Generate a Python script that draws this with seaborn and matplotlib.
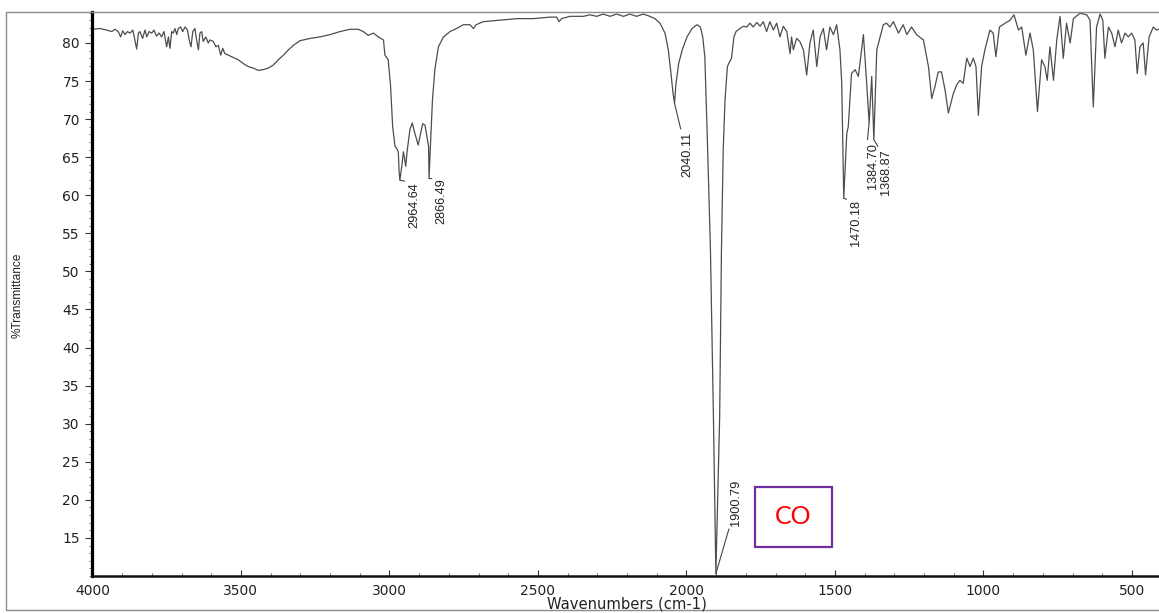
import matplotlib
matplotlib.use("Agg")
import matplotlib.pyplot as plt
import matplotlib.patches as mpatches
from matplotlib.ticker import MultipleLocator, FixedLocator
import pandas as pd
import seaborn as sns

# FT-IR spectrum: wavenumber (cm-1) and %Transmittance, high to low wavenumber
wavenumber = [
    4000, 3974, 3952, 3935, 3924, 3913, 3905, 3898, 3890, 3882, 3873, 3864, 3857, 3851,
    3845, 3840, 3831, 3823, 3817, 3809, 3800, 3793, 3784, 3775, 3767, 3759, 3750, 3744,
    3739, 3733, 3728, 3722, 3716, 3711, 3703, 3696, 3688, 3680, 3674, 3668, 3662, 3655,
    3649, 3643, 3638, 3632, 3627, 3618, 3610, 3604, 3593, 3584, 3576, 3568, 3561, 3554,
    3542, 3531, 3520, 3509, 3492, 3475, 3458, 3441, 3425, 3408, 3391, 3374, 3357, 3340,
    3323, 3301, 3267, 3234, 3200, 3166, 3133, 3105, 3088, 3071, 3054, 3037, 3020, 3015,
    3004, 2996, 2989, 2981, 2976, 2970, 2967, 2964.64, 2957, 2953, 2950, 2945, 2940, 2931,
    2923, 2914, 2903, 2895, 2888, 2880, 2872, 2868, 2866.49, 2861, 2855, 2847, 2835, 2818,
    2796, 2774, 2751, 2729, 2717, 2708, 2684, 2628, 2571, 2515, 2459, 2437, 2429, 2420,
    2392, 2347, 2325, 2302, 2280, 2257, 2235, 2212, 2190, 2168, 2145, 2123, 2106, 2089,
    2072, 2061, 2052, 2045, 2040.11, 2035, 2026, 2014, 1998, 1981, 1964, 1953, 1945, 1938,
    1930, 1919, 1909, 1900.79, 1888, 1882, 1876, 1870, 1862, 1855, 1848, 1840, 1833, 1820,
    1808, 1797, 1786, 1775, 1763, 1752, 1741, 1730, 1719, 1707, 1696, 1685, 1674, 1662,
    1651, 1646, 1640, 1629, 1618, 1606, 1595, 1584, 1573, 1561, 1550, 1539, 1528, 1517,
    1505, 1494, 1483, 1477, 1470.18, 1460, 1455, 1444, 1432, 1421, 1404, 1393, 1384.70, 1376,
    1368.87, 1359, 1337, 1326, 1315, 1303, 1286, 1270, 1258, 1242, 1225, 1202, 1185, 1174,
    1163, 1152, 1141, 1129, 1118, 1107, 1101, 1090, 1079, 1068, 1056, 1045, 1034, 1025,
    1017, 1006, 995, 978, 967, 958, 946, 927, 910, 897, 882, 871, 857, 843,
    832, 818, 804, 793, 785, 776, 764, 753, 742, 731, 720, 708, 697, 675,
    652, 641, 630, 619, 607, 598, 591, 579, 568, 557, 546, 535, 523, 512,
    501, 490, 482, 473, 462, 454, 442, 428, 417, 405, 400,
]
transmittance = [
    81.8, 81.9, 81.7, 81.5, 81.8, 81.5, 80.8, 81.6, 81.1, 81.5, 81.3, 81.7, 80.4, 79.2,
    81.3, 81.5, 80.6, 81.7, 80.8, 81.5, 81.3, 81.7, 80.9, 81.3, 80.8, 81.5, 79.5, 80.8,
    79.3, 81.5, 81.3, 81.9, 81.1, 81.9, 82.1, 81.5, 82.1, 81.7, 80.4, 79.5, 81.5, 81.9,
    80.4, 79.1, 81.3, 81.5, 80.2, 80.8, 80.0, 80.4, 80.2, 79.5, 79.7, 78.4, 79.3, 78.6,
    78.4, 78.2, 78.0, 77.8, 77.3, 76.9, 76.7, 76.4, 76.5, 76.7, 77.1, 77.8, 78.4, 79.1,
    79.7, 80.3, 80.6, 80.8, 81.1, 81.5, 81.8, 81.8, 81.5, 81.0, 81.3, 80.8, 80.4, 78.4,
    77.8, 74.3, 69.0, 66.4, 66.2, 65.7, 62.9, 62.0, 64.2, 65.7, 65.1, 63.8, 65.9, 68.6,
    69.5, 68.1, 66.6, 68.1, 69.4, 69.2, 67.3, 66.4, 62.2, 67.3, 72.5, 76.5, 79.5, 80.8,
    81.5, 81.9, 82.4, 82.4, 81.9, 82.4, 82.8, 83.0, 83.2, 83.2, 83.4, 83.4, 82.8, 83.2,
    83.5, 83.5, 83.7, 83.5, 83.8, 83.5, 83.8, 83.5, 83.8, 83.5, 83.8, 83.5, 83.2, 82.6,
    81.3, 79.1, 76.0, 73.4, 72.1, 74.7, 77.3, 79.1, 80.8, 81.9, 82.4, 82.1, 80.8, 78.2,
    68.1, 52.8, 30.9, 10.3, 30.9, 52.8, 66.0, 72.5, 76.9, 77.5, 78.0, 80.8, 81.5, 81.9,
    82.2, 82.1, 82.6, 82.1, 82.7, 82.2, 82.8, 81.5, 82.8, 81.7, 82.6, 80.8, 82.2, 81.5,
    78.6, 80.8, 79.1, 80.6, 80.2, 79.1, 75.8, 80.0, 81.7, 76.9, 80.8, 81.9, 79.1, 82.1,
    81.1, 82.4, 79.1, 74.7, 59.6, 68.1, 69.0, 76.0, 76.5, 75.6, 81.1, 74.7, 69.5, 75.6,
    67.3, 79.1, 82.4, 82.6, 82.1, 82.8, 81.3, 82.4, 81.1, 82.1, 81.1, 80.4, 76.9, 72.7,
    74.3, 76.2, 76.2, 73.8, 70.8, 72.5, 73.4, 74.5, 75.1, 74.7, 78.0, 76.9, 78.0, 76.9,
    70.5, 76.9, 79.1, 81.7, 81.3, 78.2, 82.1, 82.6, 83.0, 83.7, 81.7, 82.1, 78.4, 81.3,
    79.1, 71.0, 77.8, 76.9, 75.1, 79.5, 75.1, 80.4, 83.5, 78.0, 82.6, 80.0, 83.2, 83.9,
    83.7, 83.0, 71.6, 82.1, 83.8, 83.0, 78.0, 82.1, 81.3, 79.5, 81.7, 80.0, 81.3, 80.8,
    81.3, 80.4, 76.0, 79.5, 80.0, 75.8, 80.8, 82.1, 81.7, 81.9, 81.6,
]

# Labelled peak positions
peak_wavenumbers = [2964.64, 2866.49, 2040.11, 1900.79, 1470.18, 1384.70, 1368.87]
peak_labels = ["2964.64", "2866.49", "2040.11", "1900.79", "1470.18", "1384.70", "1368.87"]
# label offsets from the peak in pixels (dx, dy) and which end of the text the leader meets
label_offsets = [(8, -2), (6, 0), (7, -29), (14, 48), (6, -2), (-2, -20), (6, -10)]
label_va = ["top", "top", "top", "bottom", "top", "top", "top"]

x_ticks = [4000, 3500, 3000, 2500, 2000, 1500, 1000, 500]
y_ticks = [15, 20, 25, 30, 35, 40, 45, 50, 55, 60, 65, 70, 75, 80]

sns.set_theme(style="ticks")
plt.rcParams["font.family"] = ["DejaVu Sans"]

W, H = 1159, 613
fig = plt.figure(figsize=(W / 100, H / 100), dpi=100)
fig.patch.set_facecolor("white")

# outer frame of the printout
fig.add_artist(mpatches.Rectangle((6 / W, (H - 610) / H), 1.2, (610 - 12) / H,
                                  transform=fig.transFigure, fill=False,
                                  edgecolor="#8c8c8c", linewidth=1.0))

ax = fig.add_axes([92.4 / W, 37 / H, 1069.2 / W, 564 / H])
ax.set_facecolor("white")

df = pd.DataFrame({"wavenumber": wavenumber, "transmittance": transmittance})
sns.lineplot(data=df, x="wavenumber", y="transmittance", sort=False, estimator=None,
             color="#4d4d4d", linewidth=0.9, ax=ax)

ax.set_xlim(4000, 400)
ax.set_ylim(10, 84.07)

ax.xaxis.set_major_locator(FixedLocator(x_ticks))
ax.xaxis.set_minor_locator(MultipleLocator(100))
ax.yaxis.set_major_locator(FixedLocator(y_ticks))
ax.yaxis.set_minor_locator(MultipleLocator(1))

ax.tick_params(axis="x", which="major", direction="in", length=4, width=0.8,
               color="#333333", pad=6, labelsize=10, labelcolor="#222222")
ax.tick_params(axis="x", which="minor", direction="in", length=2, width=0.6, color="#555555")
ax.tick_params(axis="y", which="major", direction="out", length=5, width=0.8,
               color="#333333", pad=4, labelsize=10, labelcolor="#222222")
ax.tick_params(axis="y", which="minor", direction="out", length=2.5, width=0.6, color="#666666")

for side in ("top", "right"):
    ax.spines[side].set_visible(False)
ax.spines["left"].set_linewidth(2.3)
ax.spines["left"].set_color("black")
ax.spines["bottom"].set_linewidth(1.8)
ax.spines["bottom"].set_color("#111111")
ax.set_xlabel("")
ax.set_ylabel("")

fig.text(627 / W, 1 - 604 / H, "Wavenumbers (cm-1)", ha="center", va="center",
         fontsize=10.6, color="#222222")
fig.text(18 / W, 1 - 295 / H, "%Transmittance", rotation=90, ha="center", va="center",
         fontsize=8.6, color="#222222", family=["Liberation Sans", "DejaVu Sans"])

# peak annotations with leader lines
peak_font = ["Liberation Sans", "DejaVu Sans"]
for wn_pk, lab, (dx, dy), va in zip(peak_wavenumbers, peak_labels, label_offsets, label_va):
    t_pk = transmittance[wavenumber.index(wn_pk)]
    ax.annotate(lab, xy=(wn_pk, t_pk), xytext=(dx, dy), textcoords="offset pixels",
                rotation=90, ha="left", va=va, fontsize=9.2, color="#222222",
                family=peak_font,
                arrowprops=dict(arrowstyle="-", color="#444444", lw=0.8,
                                shrinkA=0, shrinkB=0,
                                relpos=(0, 1) if va == "top" else (0, 0)))

# boxed "CO" callout
fig.add_artist(mpatches.Rectangle((755 / W, (H - 547) / H), 77 / W, 60 / H,
                                  transform=fig.transFigure, facecolor="white",
                                  edgecolor="#7030A0", linewidth=1.6))
fig.text(793.5 / W, 1 - 517 / H, "CO", ha="center", va="center", color="#FF0000",
         fontsize=18, family=["Lato", "DejaVu Sans"])

fig.savefig("out.png", dpi=100, facecolor="white")
